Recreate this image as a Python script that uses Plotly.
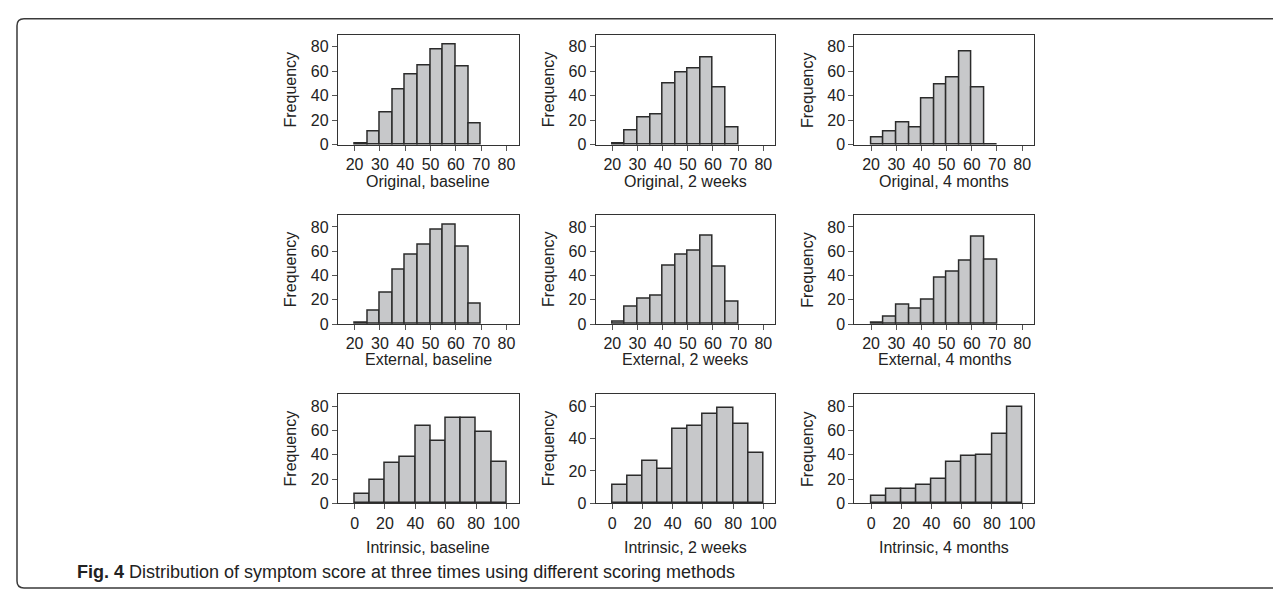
import plotly.graph_objects as go

# ---------------- data ----------------
edges_5 = [20, 25, 30, 35, 40, 45, 50, 55, 60, 65, 70]
edges_10 = [0, 10, 20, 30, 40, 50, 60, 70, 80, 90, 100]

orig_base = [1, 11, 26, 45, 57, 65, 78, 82, 64, 17]
orig_2w = [1, 12, 22, 25, 50, 59, 62, 71, 47, 14]
orig_4m = [6, 11, 18, 14, 38, 49, 55, 76, 47, 0]
ext_base = [1, 11, 26, 45, 57, 65, 78, 82, 64, 17]
ext_2w = [2, 14, 21, 23, 48, 57, 60, 73, 47, 18]
ext_4m = [1, 6, 16, 13, 20, 38, 43, 52, 72, 53]
intr_base = [8, 19, 33, 38, 64, 51, 70, 70, 59, 34]
intr_2w = [11, 17, 26, 21, 46, 48, 55, 59, 49, 31]
intr_4m = [6, 12, 12, 15, 20, 34, 39, 40, 57, 79]

titles = [
    "Original, baseline", "Original, 2 weeks", "Original, 4 months",
    "External, baseline", "External, 2 weeks", "External, 4 months",
    "Intrinsic, baseline", "Intrinsic, 2 weeks", "Intrinsic, 4 months",
]
x_ticks_5 = [20, 30, 40, 50, 60, 70, 80]
x_ticks_10 = [0, 20, 40, 60, 80, 100]
y_ticks_80 = [0, 20, 40, 60, 80]
y_ticks_60 = [0, 20, 40, 60]

caption = "<b>Fig. 4</b> Distribution of symptom score at three times using different scoring methods"

# ---------------- layout geometry ----------------
W, H = 1281, 590
col_left = [330, 588, 847]
col_right = [511, 768, 1027]
row_top = [27, 210, 392]
row_bot = [139, 321, 503]
xtitle_y = [176, 357, 548]

panels = [
    (orig_base, edges_5, x_ticks_5, y_ticks_80),
    (orig_2w, edges_5, x_ticks_5, y_ticks_80),
    (orig_4m, edges_5, x_ticks_5, y_ticks_80),
    (ext_base, edges_5, x_ticks_5, y_ticks_80),
    (ext_2w, edges_5, x_ticks_5, y_ticks_80),
    (ext_4m, edges_5, x_ticks_5, y_ticks_80),
    (intr_base, edges_10, x_ticks_10, y_ticks_80),
    (intr_2w, edges_10, x_ticks_10, y_ticks_60),
    (intr_4m, edges_10, x_ticks_10, y_ticks_80),
]

FONT = "Liberation Sans"
TXT = "#222222"
FS = 16
fig = go.Figure()
annotations = []
layout = {}

for i, (counts, edges, xt, yt) in enumerate(panels):
    r, c = divmod(i, 3)
    n = i + 1
    xa = "x" if n == 1 else f"x{n}"
    ya = "y" if n == 1 else f"y{n}"
    centers = [(edges[k] + edges[k + 1]) / 2 for k in range(len(counts))]
    widths = [edges[k + 1] - edges[k] for k in range(len(counts))]
    fig.add_trace(go.Bar(
        x=centers, y=counts, width=widths, xaxis=xa, yaxis=ya,
        marker=dict(color="#c7c8ca", line=dict(color="#2b2b2b", width=1.5)),
        showlegend=False, hoverinfo="x+y",
    ))
    span = xt[-1] - xt[0]
    x_rng = [xt[0] - span * 0.111, xt[-1] + span * 0.08]
    y_rng = [0, yt[-1] * 1.125]
    axis_common = dict(showline=True, mirror=True, linecolor="#333333", linewidth=1,
                       ticks="outside", ticklen=5, tickwidth=1, tickcolor="#555555",
                       showgrid=False, zeroline=False,
                       tickfont=dict(family=FONT, size=FS, color=TXT))
    layout["xaxis" if n == 1 else f"xaxis{n}"] = dict(
        axis_common, domain=[col_left[c] / W, col_right[c] / W],
        anchor=ya, range=x_rng, tickvals=xt)
    layout["yaxis" if n == 1 else f"yaxis{n}"] = dict(
        axis_common, domain=[1 - row_bot[r] / H, 1 - row_top[r] / H],
        anchor=xa, range=y_rng, tickvals=yt)
    annotations.append(dict(
        text=titles[i], xref="paper", yref="paper",
        x=(col_left[c] + col_right[c]) / 2 / W, y=1 - xtitle_y[r] / H,
        xanchor="center", yanchor="middle", showarrow=False,
        font=dict(family=FONT, size=FS, color=TXT)))
    annotations.append(dict(
        text="Frequency", xref="paper", yref="paper", textangle=-90,
        x=(col_left[c] - 47) / W, y=1 - (row_top[r] + row_bot[r]) / 2 / H,
        xanchor="center", yanchor="middle", showarrow=False,
        font=dict(family=FONT, size=FS, color=TXT)))

annotations.append(dict(
    text=caption, xref="paper", yref="paper", x=67 / W, y=1 - 573 / H,
    xanchor="left", yanchor="middle", showarrow=False,
    font=dict(family="Liberation Sans", size=18, color=TXT)))

# rounded frame (open on the right, as in the reference)
def P(x, y):
    return f"{x / W:.5f},{1 - y / H:.5f}"

frame = (f"M {P(1290, 11)} L {P(16, 11)} Q {P(9, 11)} {P(9, 18)} "
         f"L {P(9, 582)} Q {P(9, 589)} {P(16, 589)} L {P(1290, 589)}")

fig.update_layout(
    **layout,
    annotations=annotations,
    shapes=[dict(type="path", path=frame, xref="paper", yref="paper",
                 line=dict(color="#3a3a3a", width=1.5))],
    width=W, height=H,
    margin=dict(l=0, r=0, t=0, b=0),
    paper_bgcolor="white", plot_bgcolor="white",
    bargap=0, barmode="overlay",
    font=dict(family=FONT, color=TXT),
)

fig.write_html("out.html")
